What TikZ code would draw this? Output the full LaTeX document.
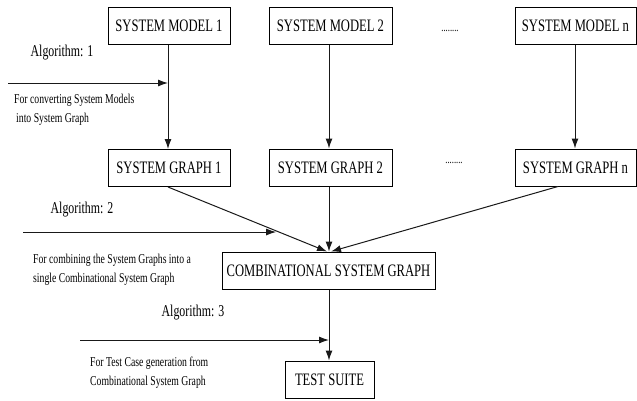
\documentclass[tikz,border=0pt]{standalone}
\usepackage{fontspec}
\setmainfont[FakeStretch=0.72]{Liberation Serif}
\usetikzlibrary{arrows.meta,calc}
\begin{document}
\begin{tikzpicture}[x=1pt,y=-1pt,
  box/.style={draw, line width=1pt, minimum height=37pt, inner sep=0pt,
    font=\fontsize{17.5}{20}\selectfont},
  conn/.style={draw=black!90, line width=1pt, -{Latex[length=10pt,width=7pt]}},
  lbl/.style={font=\fontsize{16.5}{19}\selectfont, inner sep=0pt},
  note/.style={font=\fontsize{13.5}{18.5}\selectfont, inner sep=0pt, align=left, anchor=north west},
  dots/.style={font=\fontsize{12}{14}\selectfont, inner sep=0pt}]
\useasboundingbox (0,0) rectangle (637,400);

\node[box, minimum width=122pt] (m1) at (169,25.5) {SYSTEM MODEL 1};
\node[box, minimum width=123pt] (m2) at (330.5,25.5) {SYSTEM MODEL 2};
\node[box, minimum width=121pt] (mn) at (575.5,25.5) {SYSTEM MODEL n};
\node[dots] (d1) at (450,31) {........};

\node[box, minimum width=122pt] (g1) at (169,168) {SYSTEM GRAPH 1};
\node[box, minimum width=123pt] (g2) at (330.5,167.5) {SYSTEM GRAPH 2};
\node[box, minimum width=121pt] (gn) at (575.5,167.5) {SYSTEM GRAPH n};
\node[dots] (d2) at (454,163) {........};

\node[box, minimum width=213pt] (cg) at (328.5,270.5) {COMBINATIONAL SYSTEM GRAPH};
\node[box, minimum width=89pt] (ts) at (329.5,379.5) {TEST SUITE};

% connectors
\draw[conn] (m1.south -| 168,0) -- (g1.north -| 168,0);
\draw[conn] (m2.south -| 329,0) -- (g2.north -| 329,0);
\draw[conn] (mn.south -| 575,0) -- (gn.north -| 575,0);

\coordinate (g1o) at (g1.south -| 168,0);
\coordinate (gno) at (gn.south -| 558,0);
\coordinate (cgl) at (cg.north -| 327,0);
\coordinate (cgr) at (cg.north -| 331,0);
\draw[conn] (g1o) -- (cgl);
\draw[conn] (g2.south -| 329,0) -- (cg.north -| 329,0);
\draw[conn] (gno) -- (cgr);
\draw[conn] (cg.south -| 329,0) -- (ts.north -| 329,0);

% algorithm arrows
\coordinate (a1s) at (8,83);
\coordinate (a1e) at (168,83);
\draw[conn] (a1s) -- (a1e);
\coordinate (a2s) at (23,232);
\coordinate (a2e) at ($(g1o)!0.68!(cgl)$);
\draw[conn] (a2s) -- (a2e |- a2s);
\coordinate (a3s) at (80,340);
\coordinate (a3e) at (329,340);
\draw[conn] (a3s) -- (a3e);

% labels
\node[lbl] (l1) at (62,53) {Algorithm: 1};
\node[note] (n1) at (14,94) {For converting System Models\\\hspace{2pt}into System Graph};
\node[lbl] (l2) at (82,210) {Algorithm: 2};
\node[note] (n2) at (33,254) {For combining the System Graphs into a\\single Combinational System Graph};
\node[lbl] (l3) at (193,313) {Algorithm: 3};
\node[note] (n3) at (90,357) {For Test Case generation from\\Combinational System Graph};
\end{tikzpicture}
\end{document}
